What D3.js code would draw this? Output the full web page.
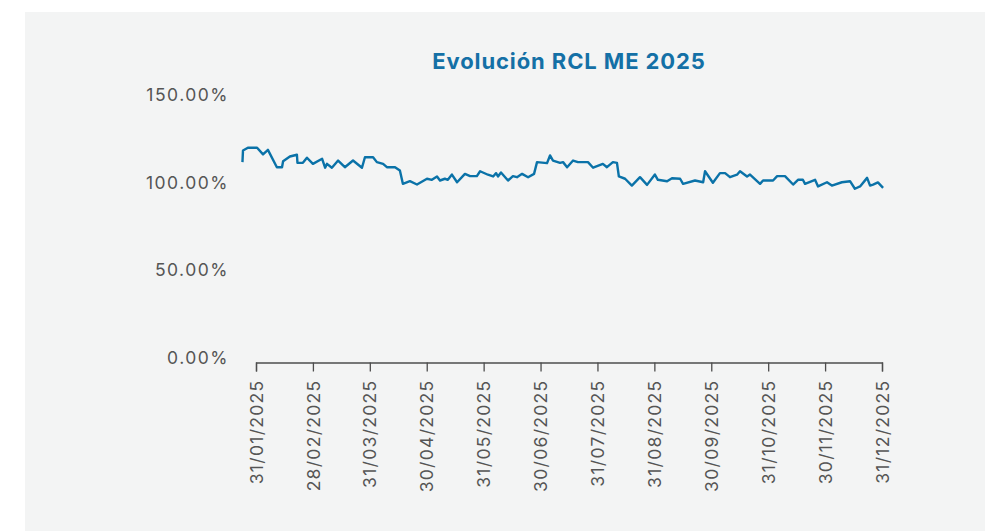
<!DOCTYPE html>
<html>
<head>
<meta charset="utf-8">
<script src="https://cdn.jsdelivr.net/npm/d3@7"></script>
<style>
  html, body { margin: 0; padding: 0; background: #ffffff; }
  svg { display: block; }
</style>
</head>
<body>
<svg id="chart" width="992" height="531"></svg>
<script>
// Trading-day position (0 = 31/01/2025, 21 per month) and RCL value (%)
const dayIndex = [-5, -4.8, -3, 0.4, 2.6, 4.4, 7.7, 9.6, 10, 12.5, 15.1, 15.3, 17.3, 18.8, 21, 24.4, 25.5, 26.2, 28, 30.3,
  32.8, 35.8, 39.1, 40.2, 43.2, 44.6, 46.9, 48.3, 51.3, 53.1, 54.2, 56.8, 59.4, 63.1, 64.9, 66.8, 67.9, 69.7, 70.8, 72.3,
  74.2, 77.1, 79, 81.5, 82.7, 85.6, 87.5, 88.6, 89.3, 90.4, 93, 94.8, 96.3, 98.2, 100.4, 102.6, 103.7, 107.4, 108.5, 109.6,
  112.2, 113.3, 114.8, 117, 118.8, 122.5, 124.4, 128, 129.5, 131.7, 133.2, 133.9, 136.2, 138.7, 141.7, 144.3, 147.2, 148.3, 151.7, 153.5,
  156.5, 157.6, 162, 165, 165.7, 168.6, 171.2, 173.1, 174.9, 177.5, 178.6, 181.2, 182.3, 186, 187.1, 190.8, 192.3, 195.2, 198.2, 200,
  201.8, 202.6, 206.3, 207.4, 210.7, 212.5, 216.2, 219.2, 221, 222.9, 225.5, 226.6, 227.7, 229.5, 231.4];
const rclValues = [114.5, 121.1, 122.7, 122.7, 118.9, 121.5, 111.6, 111.6, 115.0, 117.7, 118.7, 114.1, 114.1, 117.0, 113.5, 116.4, 111.3, 113.5, 111.3, 115.4,
  111.6, 115.4, 111.3, 117.3, 117.3, 114.5, 113.5, 111.6, 111.6, 109.7, 102.1, 103.6, 101.7, 105.0, 104.4, 106.3, 104.0, 105.0, 104.4, 107.4,
  103.0, 107.8, 106.5, 106.5, 109.3, 107.3, 106.3, 108.2, 106.3, 108.6, 104.0, 106.5, 105.9, 107.8, 105.9, 107.8, 114.5, 113.9, 118.3, 115.4,
  114.1, 114.5, 111.6, 115.4, 114.5, 114.5, 111.3, 113.5, 111.6, 114.5, 114.1, 106.3, 105.0, 101.1, 105.9, 101.5, 107.4, 104.4, 103.6, 105.3,
  105.0, 102.1, 104.0, 103.0, 109.3, 102.7, 108.2, 108.2, 105.9, 107.3, 109.3, 106.3, 107.4, 102.1, 104.0, 104.0, 106.5, 106.5, 101.7, 104.4,
  104.4, 102.1, 104.4, 100.6, 103.0, 101.1, 103.0, 103.6, 99.3, 100.6, 105.5, 101.1, 101.7, 102.9, 99.8];

const tickIndex = [0, 21, 42, 63, 84, 105, 126, 147, 168, 189, 210, 231];
const tickLabels = ["31/01/2025", "28/02/2025", "31/03/2025", "30/04/2025", "31/05/2025", "30/06/2025",
  "31/07/2025", "31/08/2025", "30/09/2025", "31/10/2025", "30/11/2025", "31/12/2025"];
const yTicks = [0, 50, 100, 150];
const chartTitle = "Evolución RCL ME 2025";

const svg = d3.select("#chart");
const FONT = "Inter, 'DejaVu Sans', sans-serif";
const axisColor = "#4d4d4d";
const lineColor = "#0a72a8";

svg.append("rect").attr("x", 25).attr("y", 12).attr("width", 960).attr("height", 525).attr("fill", "#f3f4f4");

const x = d3.scaleLinear().domain([0, 231]).range([256, 882]);
const y = d3.scaleLinear().domain([0, 150]).range([362.5, 100]);

svg.append("text")
  .attr("x", 569).attr("y", 69)
  .attr("text-anchor", "middle")
  .attr("font-family", FONT).attr("font-weight", 700).attr("font-size", 22)
  .attr("letter-spacing", 0.9)
  .attr("fill", "#1470a6")
  .text(chartTitle);

// Y labels
svg.append("g").selectAll("text").data(yTicks).join("text")
  .attr("x", 229)
  .attr("y", d => y(d) - 5)
  .attr("dy", "0.35em")
  .attr("text-anchor", "end")
  .attr("font-family", FONT).attr("font-size", 17.5)
  .attr("letter-spacing", 1.5)
  .attr("fill", "#555555")
  .text(d => d.toFixed(2) + "%");

// X axis
const xAxis = d3.axisBottom(x)
  .tickValues(tickIndex)
  .tickFormat((d, i) => tickLabels[i])
  .tickSizeInner(9).tickSizeOuter(9);
const gx = svg.append("g").attr("transform", `translate(0,${y(0)})`).call(xAxis);
gx.select(".domain").attr("stroke", axisColor).attr("stroke-width", 1.3);
gx.selectAll(".tick line").attr("stroke", axisColor).attr("stroke-width", 1.3);
gx.selectAll(".tick text")
  .attr("font-family", FONT).attr("font-size", 17.5).attr("fill", "#555555")
  .attr("letter-spacing", 1.3)
  .attr("transform", "rotate(-90)")
  .attr("text-anchor", "end")
  .attr("x", -17).attr("y", 0).attr("dy", "0.35em");

// Line
const pts = dayIndex.map((d, i) => [d, rclValues[i]]);
svg.append("path")
  .datum(pts)
  .attr("fill", "none")
  .attr("stroke", lineColor)
  .attr("stroke-width", 2.4)
  .attr("stroke-linejoin", "round")
  .attr("d", d3.line().x(d => x(d[0])).y(d => y(d[1])));
</script>
</body>
</html>
